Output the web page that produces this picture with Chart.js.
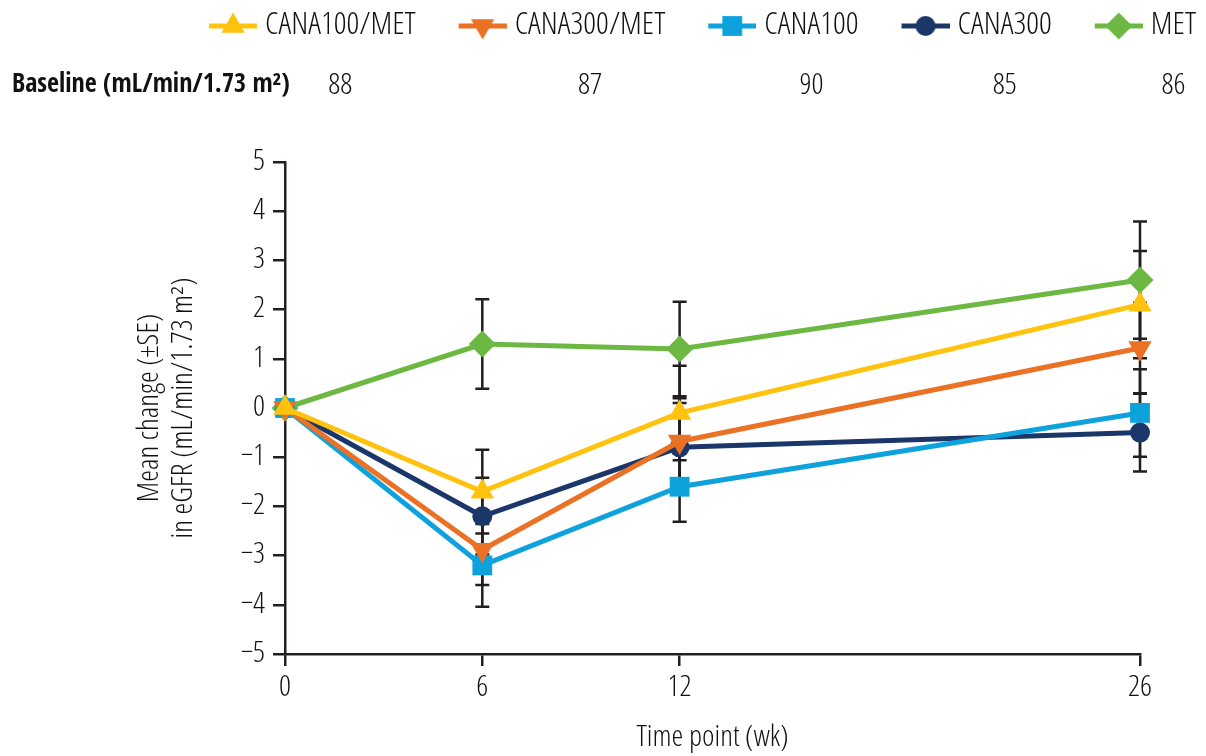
<!DOCTYPE html>
<html>
<head>
<meta charset="utf-8">
<script src="https://cdn.jsdelivr.net/npm/chart.js@4.4.1/dist/chart.umd.min.js"></script>
<style>
  html, body { margin: 0; padding: 0; background: #fff; }
  #contenedor { width: 1206px; height: 756px; position: relative; }
</style>
</head>
<body>
<div id="contenedor"><canvas id="graficoEGFR"></canvas></div>
<script>
// Semanas y etiquetas del eje X
const semanas = [0, 6, 12, 26];
const ticksSemanas = [0, 6, 12, 26];

// Nombres de los grupos y valor basal (mL/min/1.73 m²)
const grupos = ['CANA100/MET', 'CANA300/MET', 'CANA100', 'CANA300', 'MET'];
const basales = [88, 87, 90, 85, 86];

// Cambio medio en eGFR por grupo
const cana100met = [0, -1.7, -0.1, 2.1];
const cana300met = [0, -2.88, -0.68, 1.22];
const cana100 = [0, -3.2, -1.6, -0.1];
const cana300 = [0, -2.2, -0.8, -0.5];
const met = [0, 1.3, 1.2, 2.6];

// Error estándar (±SE) por grupo
const seCana100met = [0, 0.85, 0.96, 1.09];
const seCana300met = [0, 0.72, 0.88, 0.92];
const seCana100 = [0, 0.84, 0.71, 0.89];
const seCana300 = [0, 0.78, 0.9, 0.79];
const seMet = [0, 0.91, 0.96, 1.19];

const valores = [cana100met, cana300met, cana100, cana300, met];
const errores = [seCana100met, seCana300met, seCana100, seCana300, seMet];

// Estilo de cada serie
const colores = ['#FFC20E', '#EB7125', '#0EA2DD', '#1B3769', '#6DB843'];
const marcadores = ['triangle', 'triangle', 'rect', 'circle', 'rectRot'];
const radios = [13.5, 13.5, 14, 10, 13.5];
const rotaciones = [0, 180, 0, 0, 0];

const FUENTE = "'Open Sans Condensed Light', 'Open Sans Cond Light', 'DejaVu Sans Condensed', Roboto, sans-serif";
const FUENTE_NEGRITA = "'Open Sans Condensed', 'Noto Sans Condensed', Roboto, sans-serif";
const NEGRO = '#231f20';
const TEXTO = '#111111';

// Imagen para la leyenda: línea con el marcador, pegada al texto
function imagenLeyenda(i) {
    const c = document.createElement('canvas');
    c.width = 89;
    c.height = 30;
    const g = c.getContext('2d');
    g.strokeStyle = colores[i];
    g.lineWidth = 5;
    g.beginPath();
    g.moveTo(41, 15);
    g.lineTo(89, 15);
    g.stroke();
    g.fillStyle = colores[i];
    Chart.helpers.drawPoint(g, {pointStyle: marcadores[i], radius: radios[i], rotation: rotaciones[i], borderWidth: 0}, 65, 15);
    return c;
}
const imagenes = grupos.map((g, i) => imagenLeyenda(i));

// Barras de error (debajo de las líneas)
const barrasError = {
    id: 'barrasError',
    beforeDatasetsDraw(chart) {
        const {ctx, scales: {x, y}} = chart;
        ctx.save();
        ctx.strokeStyle = NEGRO;
        ctx.lineWidth = 2.5;
        valores.forEach((serie, i) => {
            serie.forEach((v, j) => {
                const e = errores[i][j];
                if (!e) return;
                const px = x.getPixelForValue(semanas[j]);
                const y1 = y.getPixelForValue(v + e);
                const y2 = y.getPixelForValue(v - e);
                ctx.beginPath();
                ctx.moveTo(px, y1); ctx.lineTo(px, y2);
                ctx.moveTo(px - 7, y1); ctx.lineTo(px + 7, y1);
                ctx.moveTo(px - 7, y2); ctx.lineTo(px + 7, y2);
                ctx.stroke();
            });
        });
        ctx.restore();
    }
};

// Valores basales debajo de cada texto de la leyenda
const filaBasal = {
    id: 'filaBasal',
    afterDraw(chart) {
        const leyenda = chart.legend;
        const cajas = leyenda.legendHitBoxes;
        const ancho = leyenda.options.labels.pointStyleWidth;
        const mitad = leyenda.options.labels.font.size / 2;
        const ctx = chart.ctx;
        ctx.save();
        ctx.fillStyle = TEXTO;
        ctx.font = '30px ' + FUENTE;
        ctx.textAlign = 'center';
        ctx.textBaseline = 'middle';
        cajas.forEach((caja, i) => {
            const centro = caja.left + (caja.width + ancho + mitad) / 2;
            ctx.fillText(String(basales[i]), centro, 86);
        });
        ctx.restore();
    }
};

const ctx = document.getElementById('graficoEGFR').getContext('2d');

const chart = new Chart(ctx, {
    type: 'line',
    data: {
        datasets: grupos.map((nombre, i) => ({
            label: nombre,
            data: semanas.map((s, j) => ({x: s, y: valores[i][j]})),
            borderColor: colores[i],
            backgroundColor: colores[i],
            borderWidth: 5,
            pointStyle: marcadores[i],
            pointRadius: radios[i],
            pointHoverRadius: radios[i],
            pointRotation: rotaciones[i],
            pointBorderWidth: 0,
            tension: 0,
            clip: false
        }))
    },
    options: {
        responsive: true,
        maintainAspectRatio: false,
        animation: false,
        layout: {padding: {top: 0, left: 12, right: 0, bottom: 0}},
        plugins: {
            tooltip: {enabled: false},
            legend: {
                position: 'top',
                align: 'end',
                weight: 3000,
                labels: {
                    usePointStyle: true,
                    pointStyleWidth: 73,
                    padding: 10,
                    color: TEXTO,
                    font: {family: FUENTE, size: 32},
                    generateLabels(chart) {
                        const base = Chart.defaults.plugins.legend.labels.generateLabels(chart);
                        return base.map((it, i) => Object.assign(it, {pointStyle: imagenes[i], rotation: 0}));
                    }
                }
            },
            title: {
                display: true,
                text: 'Baseline (mL/min/1.73 m²)',
                align: 'start',
                color: TEXTO,
                font: {family: FUENTE_NEGRITA, size: 26, weight: 'bold'},
                padding: {top: 18, bottom: 60.8}
            }
        },
        scales: {
            x: {
                type: 'linear',
                min: 0,
                max: 26,
                afterBuildTicks(s) { s.ticks = ticksSemanas.map(v => ({value: v})); },
                afterFit(s) { s.paddingRight = 66; s.height = 102; },
                grid: {drawOnChartArea: false, tickLength: 12, lineWidth: 2.5, color: NEGRO},
                border: {color: NEGRO, width: 2.5},
                ticks: {color: TEXTO, font: {family: FUENTE, size: 30}, padding: 4, maxRotation: 0},
                title: {display: true, text: 'Time point (wk)', color: TEXTO, font: {family: FUENTE, size: 30}, padding: 0}
            },
            y: {
                min: -5,
                max: 5,
                afterFit(s) { s.width = 273; },
                grid: {drawOnChartArea: false, tickLength: 12, lineWidth: 2.5, color: NEGRO},
                border: {color: NEGRO, width: 2.5},
                ticks: {
                    stepSize: 1,
                    color: TEXTO,
                    padding: 8,
                    font: {family: FUENTE, size: 30},
                    callback: v => v < 0 ? '\u2212' + Math.abs(v) : String(v)
                },
                title: {
                    display: true,
                    text: ['Mean change (\u00b1SE)', 'in eGFR (mL/min/1.73 m\u00b2)'],
                    color: TEXTO,
                    font: {family: FUENTE, size: 30, lineHeight: 1.133},
                    padding: {top: 121, bottom: 0}
                }
            }
        }
    },
    plugins: [barrasError, filaBasal]
});
</script>
</body>
</html>
